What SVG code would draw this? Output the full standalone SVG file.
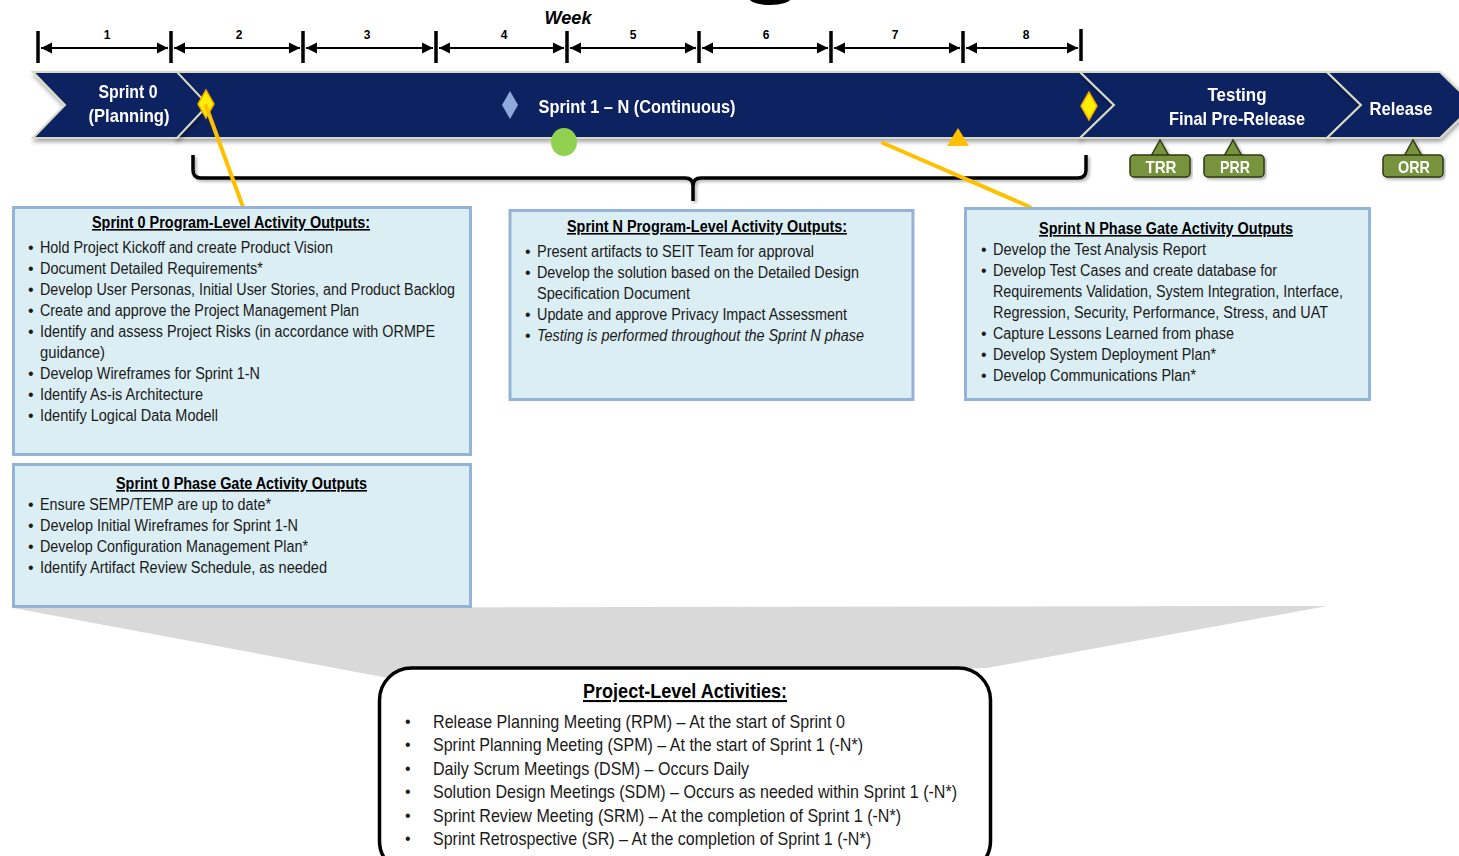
<svg xmlns="http://www.w3.org/2000/svg" width="1459" height="856" viewBox="0 0 1459 856">
  <style>
    text { font-family: "Liberation Sans Narrow", "Liberation Sans", Arial, sans-serif; }
    .band { fill: #0e2161; stroke: #d6dac6; stroke-width: 2; }
    .bandtxt { fill: #ffffff; font-size: 19px; font-weight: bold; text-anchor: middle; }
    .tick { stroke: #000; stroke-width: 3.5; }
    .span { stroke: #000; stroke-width: 2; marker-start: url(#ah); marker-end: url(#ah); }
    .num { font-family: "Liberation Sans", Arial, sans-serif; font-size: 12px; font-weight: bold; text-anchor: middle; fill: #000; }
    .box { fill: #dbeef4; stroke: #95b3d7; stroke-width: 3; }
    .ttl { font-size: 16px; font-weight: bold; text-decoration: underline; fill: #000; }
    .li { font-size: 16px; fill: #1a1a1a; }
    .bul { font-family: "Liberation Sans", Arial, sans-serif; font-size: 16px; fill: #1a1a1a; }
    .big { font-size: 19px; fill: #1a1a1a; }
    .bigttl { font-size: 21px; font-weight: bold; text-decoration: underline; fill: #000; }
    .gold { stroke: #ffc000; stroke-width: 4; stroke-linecap: round; }
    .tag { fill: #77933c; stroke: #2e3a16; stroke-width: 1.5; }
    .tagtxt { fill: #ffffff; font-size: 17px; font-weight: bold; text-anchor: middle; }
  </style>
  <defs>
    <marker id="ah" viewBox="0 0 10 10" refX="10" refY="5" markerWidth="5.5" markerHeight="6" orient="auto-start-reverse" markerUnits="strokeWidth">
      <path d="M0,0 L10,5 L0,10 Z" fill="#000"/>
    </marker>
    <filter id="sh" x="-5%" y="-20%" width="110%" height="150%">
      <feDropShadow dx="1" dy="3" stdDeviation="2" flood-color="#000" flood-opacity="0.35"/>
    </filter>
    <filter id="sh2" x="-5%" y="-20%" width="110%" height="150%">
      <feDropShadow dx="2" dy="2" stdDeviation="1.5" flood-color="#000" flood-opacity="0.3"/>
    </filter>
  </defs>

  <rect width="1459" height="856" fill="#ffffff"/>

  <!-- fragment of the heading above the timeline -->
  <ellipse cx="770" cy="-2" rx="21" ry="7" fill="#000"/>

  <!-- week ruler -->
  <g id="ruler">
    <text x="568" y="24" font-size="19" font-weight="bold" font-style="italic" text-anchor="middle" textLength="47" lengthAdjust="spacingAndGlyphs">Week</text>
    <g class="ticks">
      <line class="tick" x1="38" y1="31" x2="38" y2="63"/>
      <line class="tick" x1="171" y1="31" x2="171" y2="63"/>
      <line class="tick" x1="303" y1="31" x2="303" y2="63"/>
      <line class="tick" x1="436" y1="31" x2="436" y2="63"/>
      <line class="tick" x1="567" y1="31" x2="567" y2="63"/>
      <line class="tick" x1="699" y1="31" x2="699" y2="63"/>
      <line class="tick" x1="831" y1="31" x2="831" y2="63"/>
      <line class="tick" x1="963" y1="31" x2="963" y2="63"/>
      <line class="tick" x1="1081" y1="29" x2="1081" y2="61"/>
    </g>
    <g class="spans">
      <line class="span" x1="41" y1="48" x2="168" y2="48"/>
      <line class="span" x1="174" y1="48" x2="300" y2="48"/>
      <line class="span" x1="306" y1="48" x2="433" y2="48"/>
      <line class="span" x1="439" y1="48" x2="564" y2="48"/>
      <line class="span" x1="570" y1="48" x2="696" y2="48"/>
      <line class="span" x1="702" y1="48" x2="828" y2="48"/>
      <line class="span" x1="834" y1="48" x2="960" y2="48"/>
      <line class="span" x1="966" y1="48" x2="1078" y2="48"/>
    </g>
    <text class="num" x="107" y="39">1</text>
    <text class="num" x="239" y="39">2</text>
    <text class="num" x="367" y="39">3</text>
    <text class="num" x="504" y="39">4</text>
    <text class="num" x="633" y="39">5</text>
    <text class="num" x="766" y="39">6</text>
    <text class="num" x="895" y="39">7</text>
    <text class="num" x="1026" y="39">8</text>
  </g>

  <!-- phase chevrons -->
  <g id="phase-sprint1n" filter="url(#sh)">
    <polygon class="band" points="176,72 1080,72 1114,105 1080,138 176,138"/>
    <text class="bandtxt" x="637" y="113" textLength="197" lengthAdjust="spacingAndGlyphs">Sprint 1 – N (Continuous)</text>
  </g>
  <g id="phase-sprint0" filter="url(#sh)">
    <polygon class="band" points="33,72 177,72 208,105 177,138 33,138 65,105"/>
    <text class="bandtxt" x="128" y="98" textLength="59" lengthAdjust="spacingAndGlyphs">Sprint 0</text>
    <text class="bandtxt" x="129" y="122" textLength="81" lengthAdjust="spacingAndGlyphs">(Planning)</text>
  </g>
  <g id="phase-testing" filter="url(#sh)">
    <polygon class="band" points="1080,72 1327,72 1361,105 1327,138 1080,138 1114,105"/>
    <text class="bandtxt" x="1237" y="101" textLength="59" lengthAdjust="spacingAndGlyphs">Testing</text>
    <text class="bandtxt" x="1237" y="125" textLength="136" lengthAdjust="spacingAndGlyphs">Final Pre-Release</text>
  </g>
  <g id="phase-release" filter="url(#sh)">
    <polygon class="band" points="1327,72 1440,72 1474,105 1440,138 1327,138 1361,105"/>
    <text class="bandtxt" x="1401" y="115" textLength="63" lengthAdjust="spacingAndGlyphs">Release</text>
  </g>

  <!-- milestone markers -->
  <g id="markers">
    <polygon points="206,90 214,104 206,118 198,104" fill="#ffee00" stroke="#f0a800" stroke-width="1.5"/>
    <polygon points="1089,92 1097,106 1089,120 1081,106" fill="#ffee00" stroke="#f0a800" stroke-width="1.5"/>
    <polygon points="510,91 518,105 510,119 502,105" fill="#8fa9dc"/>
    <polygon points="958,128 969,146 947,146" fill="#ffc000"/>
    <ellipse cx="564" cy="142" rx="13" ry="14" fill="#92d050"/>
  </g>

  <!-- review gates -->
  <g id="gate-trr" filter="url(#sh2)">
    <polygon class="tag" points="1151,156 1160,140 1169,156"/>
    <rect class="tag" x="1130" y="155" width="60" height="22" rx="4"/>
    <text class="tagtxt" x="1161" y="173" textLength="31" lengthAdjust="spacingAndGlyphs">TRR</text>
  </g>
  <g id="gate-prr" filter="url(#sh2)">
    <polygon class="tag" points="1224,156 1233,140 1242,156"/>
    <rect class="tag" x="1204" y="155" width="60" height="22" rx="4"/>
    <text class="tagtxt" x="1235" y="173" textLength="30" lengthAdjust="spacingAndGlyphs">PRR</text>
  </g>
  <g id="gate-orr" filter="url(#sh2)">
    <polygon class="tag" points="1404,156 1413,140 1422,156"/>
    <rect class="tag" x="1383" y="155" width="60" height="22" rx="4"/>
    <text class="tagtxt" x="1414" y="173" textLength="32" lengthAdjust="spacingAndGlyphs">ORR</text>
  </g>

  <!-- connectors: span brace, callout lines and funnel -->
  <g id="connectors">
    <polygon points="13,608 1327,606 987,668 383,677" fill="#d9d9d9"/>
    <path d="M193,155 V170 Q193,178 201,178 H685 Q693,178 693,186 V201 M693,186 Q693,178 701,178 H1078 Q1086,178 1086,170 V155" fill="none" stroke="#000" stroke-width="3.5" filter="url(#sh2)"/>
    <line class="gold" x1="206" y1="106" x2="243" y2="207"/>
    <line class="gold" x1="883" y1="143" x2="1030" y2="207"/>
  </g>

  <!-- Sprint 0 program-level box -->
  <g id="box-sprint0-program">
    <rect class="box" x="13.5" y="207.5" width="457" height="247"/>
    <text class="ttl" x="92" y="228" textLength="278" lengthAdjust="spacingAndGlyphs">Sprint 0 Program-Level Activity Outputs:</text>
    <g class="bul">
      <text x="28" y="253">•</text><text x="28" y="274">•</text><text x="28" y="295">•</text>
      <text x="28" y="316">•</text><text x="28" y="337">•</text><text x="28" y="379">•</text>
      <text x="28" y="400">•</text><text x="28" y="421">•</text>
    </g>
    <text class="li" x="40" y="253" textLength="293" lengthAdjust="spacingAndGlyphs">Hold Project Kickoff and create Product Vision</text>
    <text class="li" x="40" y="274" textLength="223" lengthAdjust="spacingAndGlyphs">Document Detailed Requirements*</text>
    <text class="li" x="40" y="295" textLength="415" lengthAdjust="spacingAndGlyphs">Develop User Personas, Initial User Stories, and Product Backlog</text>
    <text class="li" x="40" y="316" textLength="319" lengthAdjust="spacingAndGlyphs">Create and approve the Project Management Plan</text>
    <text class="li" x="40" y="337" textLength="395" lengthAdjust="spacingAndGlyphs">Identify  and assess Project Risks (in accordance with ORMPE</text>
    <text class="li" x="40" y="358" textLength="65" lengthAdjust="spacingAndGlyphs">guidance)</text>
    <text class="li" x="40" y="379" textLength="220" lengthAdjust="spacingAndGlyphs">Develop Wireframes for Sprint 1-N</text>
    <text class="li" x="40" y="400" textLength="163" lengthAdjust="spacingAndGlyphs">Identify  As-is Architecture</text>
    <text class="li" x="40" y="421" textLength="178" lengthAdjust="spacingAndGlyphs">Identify  Logical Data Modell</text>
  </g>

  <!-- Sprint 0 phase gate box -->
  <g id="box-sprint0-gate">
    <rect class="box" x="13.5" y="464.5" width="457" height="142"/>
    <text class="ttl" x="116" y="489" textLength="251" lengthAdjust="spacingAndGlyphs">Sprint 0 Phase Gate Activity Outputs</text>
    <g class="bul">
      <text x="28" y="510">•</text><text x="28" y="531">•</text><text x="28" y="552">•</text><text x="28" y="573">•</text>
    </g>
    <text class="li" x="40" y="510" textLength="231" lengthAdjust="spacingAndGlyphs">Ensure SEMP/TEMP are up to date*</text>
    <text class="li" x="40" y="531" textLength="258" lengthAdjust="spacingAndGlyphs">Develop Initial Wireframes for Sprint 1-N</text>
    <text class="li" x="40" y="552" textLength="268" lengthAdjust="spacingAndGlyphs">Develop Configuration Management Plan*</text>
    <text class="li" x="40" y="573" textLength="287" lengthAdjust="spacingAndGlyphs">Identify  Artifact  Review Schedule, as needed</text>
  </g>

  <!-- Sprint N program-level box -->
  <g id="box-sprintn-program">
    <rect class="box" x="510" y="210.5" width="403" height="189"/>
    <text class="ttl" x="567" y="232" textLength="280" lengthAdjust="spacingAndGlyphs">Sprint N Program-Level Activity Outputs:</text>
    <g class="bul">
      <text x="525" y="257">•</text><text x="525" y="278">•</text><text x="525" y="320">•</text><text x="525" y="341">•</text>
    </g>
    <text class="li" x="537" y="257" textLength="277" lengthAdjust="spacingAndGlyphs">Present artifacts to SEIT Team for approval</text>
    <text class="li" x="537" y="278" textLength="322" lengthAdjust="spacingAndGlyphs">Develop the solution based on the Detailed Design</text>
    <text class="li" x="537" y="299" textLength="153" lengthAdjust="spacingAndGlyphs">Specification Document</text>
    <text class="li" x="537" y="320" textLength="310" lengthAdjust="spacingAndGlyphs">Update and approve Privacy Impact Assessment</text>
    <text class="li" x="537" y="341" font-style="italic" textLength="327" lengthAdjust="spacingAndGlyphs">Testing is performed throughout the Sprint N phase</text>
  </g>

  <!-- Sprint N phase gate box -->
  <g id="box-sprintn-gate">
    <rect class="box" x="965.5" y="208.5" width="404" height="191"/>
    <text class="ttl" x="1039" y="234" textLength="254" lengthAdjust="spacingAndGlyphs">Sprint N Phase Gate Activity Outputs</text>
    <g class="bul">
      <text x="981" y="255">•</text><text x="981" y="276">•</text><text x="981" y="339">•</text>
      <text x="981" y="360">•</text><text x="981" y="381">•</text>
    </g>
    <text class="li" x="993" y="255" textLength="213" lengthAdjust="spacingAndGlyphs">Develop the Test Analysis Report</text>
    <text class="li" x="993" y="276" textLength="284" lengthAdjust="spacingAndGlyphs">Develop Test Cases and create database for</text>
    <text class="li" x="993" y="297" textLength="350" lengthAdjust="spacingAndGlyphs">Requirements Validation, System Integration, Interface,</text>
    <text class="li" x="993" y="318" textLength="335" lengthAdjust="spacingAndGlyphs">Regression, Security, Performance, Stress, and UAT</text>
    <text class="li" x="993" y="339" textLength="241" lengthAdjust="spacingAndGlyphs">Capture Lessons Learned from phase</text>
    <text class="li" x="993" y="360" textLength="223" lengthAdjust="spacingAndGlyphs">Develop System Deployment Plan*</text>
    <text class="li" x="993" y="381" textLength="203" lengthAdjust="spacingAndGlyphs">Develop Communications Plan*</text>
  </g>

  <!-- project-level activities -->
  <g id="box-project-level">
    <rect x="379.5" y="668" width="611" height="205" rx="32" fill="#ffffff" stroke="#000" stroke-width="3.5"/>
    <text class="bigttl" x="583" y="698" textLength="204" lengthAdjust="spacingAndGlyphs">Project-Level Activities:</text>
    <g class="bul" font-size="15">
      <text x="405" y="727">•</text><text x="405" y="750">•</text><text x="405" y="774">•</text>
      <text x="405" y="797">•</text><text x="405" y="821">•</text><text x="405" y="844">•</text>
    </g>
    <text class="big" x="433" y="728" textLength="412" lengthAdjust="spacingAndGlyphs">Release Planning Meeting (RPM) – At the start of Sprint 0</text>
    <text class="big" x="433" y="751" textLength="430" lengthAdjust="spacingAndGlyphs">Sprint Planning Meeting (SPM) – At the start of Sprint 1 (-N*)</text>
    <text class="big" x="433" y="775" textLength="316" lengthAdjust="spacingAndGlyphs">Daily  Scrum Meetings (DSM) – Occurs Daily</text>
    <text class="big" x="433" y="798" textLength="524" lengthAdjust="spacingAndGlyphs">Solution Design Meetings (SDM) – Occurs as needed within Sprint 1 (-N*)</text>
    <text class="big" x="433" y="822" textLength="468" lengthAdjust="spacingAndGlyphs">Sprint Review Meeting (SRM) – At the completion of Sprint 1 (-N*)</text>
    <text class="big" x="433" y="845" textLength="438" lengthAdjust="spacingAndGlyphs">Sprint Retrospective  (SR) – At the completion of Sprint 1 (-N*)</text>
  </g>
</svg>
